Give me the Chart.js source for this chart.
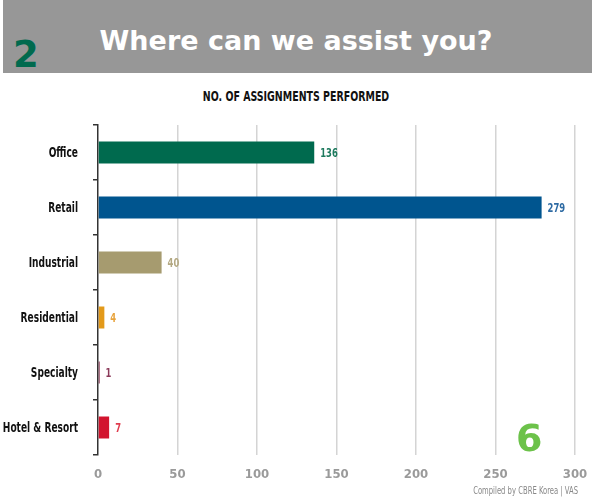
<!DOCTYPE html>
<html>
<head>
<meta charset="utf-8">
<script src="https://cdn.jsdelivr.net/npm/chart.js@4"></script>
<style>
  html, body { margin: 0; padding: 0; background: #fff; }
  #wrap { position: relative; width: 592px; height: 499px; overflow: hidden; }
  #header { position: absolute; left: 3px; top: 0; width: 589px; height: 73px; background: #979797; }
  #num2 { position: absolute; left: 13px; top: 33px; font: bold 37px "DejaVu Sans", sans-serif; color: #006A4E; }
  #title { position: absolute; left: 0; width: 592px; top: 25px; text-align: center; font: bold 27px "DejaVu Sans", sans-serif; color: #fff; }
  #sub { position: absolute; left: 0; width: 592px; top: 88px; text-align: center; font: bold 14px "DejaVu Sans Condensed", sans-serif; color: #111; transform: scaleX(0.75); transform-origin: 296px 0; }
  #six { position: absolute; left: 516px; top: 416px; font: bold 38px "DejaVu Sans", sans-serif; color: #6CC24A; }
  #foot { position: absolute; right: 14px; top: 485px; font: 10px "DejaVu Sans Condensed", sans-serif; color: #888; transform: scaleX(0.76); transform-origin: right top; }
  canvas { position: absolute; left: 0; top: 0; }
</style>
</head>
<body>
<div id="wrap">
  <div id="header"></div>
  <div id="num2">2</div>
  <div id="title">Where can we assist you?</div>
  <div id="sub">NO. OF ASSIGNMENTS PERFORMED</div>
  <canvas id="chart" width="592" height="499"></canvas>
  <div id="six">6</div>
  <div id="foot">Compiled by CBRE Korea | VAS</div>
</div>
<script>
// data
const categories = ['Office', 'Retail', 'Industrial', 'Residential', 'Specialty', 'Hotel & Resort'];
const assignments = [136, 279, 40, 4, 1, 7];
const barColors = ['#006A4E', '#00558F', '#A69B6F', '#E39A1A', '#6B1030', '#D2142E'];
const labelColors = ['#1E7A5E', '#2D6AA3', '#B3A882', '#E8A33C', '#8B3A5A', '#E03C4E'];
const xTicks = [0, 50, 100, 150, 200, 250, 300];

const condensed = '"DejaVu Sans Condensed", sans-serif';
const squeeze = 0.72;

// narrow text drawn by hand: category names and value labels
const narrowLabels = {
    id: 'narrowLabels',
    afterDraw(chart) {
        const ctx = chart.ctx;
        const yScale = chart.scales.y;
        const meta = chart.getDatasetMeta(0);
        ctx.save();
        ctx.scale(squeeze, 1);
        ctx.textBaseline = 'middle';

        // category names
        ctx.font = 'bold 14px ' + condensed;
        ctx.textAlign = 'right';
        ctx.fillStyle = '#111';
        categories.forEach((c, i) => {
            ctx.fillText(c, 78 / squeeze, yScale.getPixelForTick(i) + 1);
        });

        // values next to the bars
        ctx.font = 'bold 13px ' + condensed;
        ctx.textAlign = 'left';
        meta.data.forEach((bar, i) => {
            ctx.fillStyle = labelColors[i];
            ctx.fillText(String(assignments[i]), (bar.x + 6) / squeeze, bar.y + 1);
        });
        ctx.restore();
    }
};

new Chart(document.getElementById('chart').getContext('2d'), {
    type: 'bar',
    data: {
        labels: categories,
        datasets: [{
            data: assignments,
            backgroundColor: barColors,
            barPercentage: 0.8,
            categoryPercentage: 0.5
        }]
    },
    options: {
        indexAxis: 'y',
        responsive: false,
        animation: false,
        layout: { padding: { top: 125, right: 17, left: 0, bottom: 0 } },
        plugins: {
            legend: { display: false },
            tooltip: { enabled: false }
        },
        scales: {
            x: {
                min: 0,
                max: 300,
                afterBuildTicks(scale) {
                    scale.ticks = xTicks.map(v => ({ value: v }));
                },
                afterFit(scale) {
                    scale.height = 44;
                    scale.paddingLeft = 0;
                    scale.paddingRight = 0;
                },
                border: { display: false },
                grid: {
                    color: ctx => ctx.tick && ctx.tick.value === 0 ? 'rgba(0,0,0,0)' : '#D4D4D4',
                    lineWidth: 1.5,
                    drawTicks: false
                },
                ticks: {
                    padding: 12,
                    color: '#9A9A9A',
                    font: { family: condensed, size: 13, weight: 'bold' }
                }
            },
            y: {
                afterFit(scale) {
                    scale.width = 98;
                    scale.paddingTop = 0;
                    scale.paddingBottom = 0;
                },
                border: { color: '#333', width: 1.5 },
                grid: {
                    drawOnChartArea: false,
                    tickLength: 5,
                    color: '#333',
                    lineWidth: 1.5
                },
                ticks: {
                    padding: 14,
                    color: 'rgba(0,0,0,0)',
                    font: { family: condensed, size: 12, weight: 'bold' }
                }
            }
        }
    },
    plugins: [narrowLabels]
});
</script>
</body>
</html>
